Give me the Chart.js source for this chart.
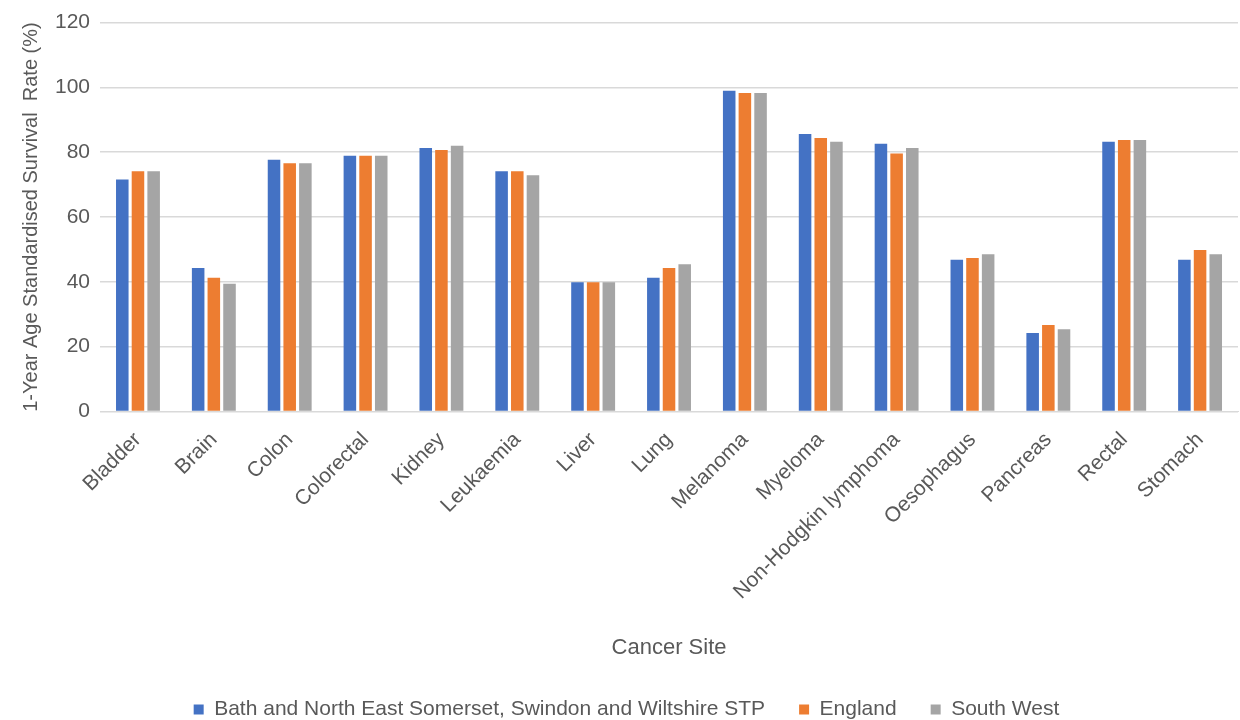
<!DOCTYPE html>
<html>
<head>
<meta charset="utf-8">
<script src="https://cdn.jsdelivr.net/npm/chart.js@4"></script>
<style>
  html, body { margin: 0; padding: 0; background: #fff; }
  #wrap { position: relative; width: 1240px; height: 720px; }
</style>
</head>
<body>
<div id="wrap"><canvas id="chart"></canvas></div>
<script>
const categories = ['Bladder', 'Brain', 'Colon', 'Colorectal', 'Kidney', 'Leukaemia', 'Liver', 'Lung',
  'Melanoma', 'Myeloma', 'Non-Hodgkin lymphoma', 'Oesophagus', 'Pancreas', 'Rectal', 'Stomach']
const stpValues = [71.6, 44.3, 77.7, 78.9, 81.3, 74.1, 39.9, 41.3, 99.0, 85.6, 82.6, 46.8, 24.2, 83.2, 46.8]
const englandValues = [74.1, 41.3, 76.6, 78.9, 80.7, 74.1, 39.9, 44.3, 98.3, 84.4, 79.6, 47.4, 26.7, 83.8, 49.8]
const southWestValues = [74.1, 39.4, 76.6, 78.9, 82.0, 72.9, 39.9, 45.4, 98.3, 83.2, 81.3, 48.5, 25.4, 83.8, 48.5]
const seriesNames = ['Bath and North East Somerset, Swindon and Wiltshire STP', 'England', 'South West']
const yTicks = [0, 20, 40, 60, 80, 100, 120]

const textColor = '#595959'
const font = 'Liberation Sans, Arial, sans-serif'

const data = {
  labels: categories,
  datasets: [
    { label: seriesNames[0], data: stpValues, backgroundColor: '#4472c4' },
    { label: seriesNames[1], data: englandValues, backgroundColor: '#ed7d31' },
    { label: seriesNames[2], data: southWestValues, backgroundColor: '#a5a5a5' },
  ],
}

const options = {
  responsive: true,
  maintainAspectRatio: false,
  animation: false,
  // negative bottom pushes the legend closer to the edge, like the original
  layout: { padding: { left: 15, right: 2, top: 12, bottom: -10 } },
  datasets: { bar: { categoryPercentage: 0.62, barPercentage: 0.8 } },
  plugins: {
    tooltip: { enabled: false },
    legend: {
      position: 'bottom',
      labels: {
        color: textColor,
        font: { family: font, size: 21 },
        boxWidth: 10,
        boxHeight: 10,
        padding: 34,
      },
    },
  },
  scales: {
    x: {
      grid: { display: false },
      border: { color: '#d9d9d9' },
      ticks: {
        color: textColor,
        font: { family: font, size: 21 },
        minRotation: 45,
        maxRotation: 45,
        padding: 8,
      },
      title: {
        display: true,
        text: 'Cancer Site',
        color: textColor,
        font: { family: font, size: 22 },
        padding: { top: 22, bottom: 4 },
      },
    },
    y: {
      min: 0,
      max: 120,
      afterBuildTicks: axis => { axis.ticks = yTicks.map(v => ({ value: v })) },
      grid: { color: '#d9d9d9', lineWidth: 1.5, drawTicks: false },
      border: { display: false },
      ticks: {
        color: textColor,
        font: { family: font, size: 21 },
        padding: 10,
      },
      title: {
        display: true,
        text: '1-Year Age Standardised Survival  Rate (%)',
        color: textColor,
        font: { family: font, size: 20 },
        padding: { bottom: 2 },
      },
    },
  },
}

new Chart('chart', { type: 'bar', data, options })
</script>
</body>
</html>
